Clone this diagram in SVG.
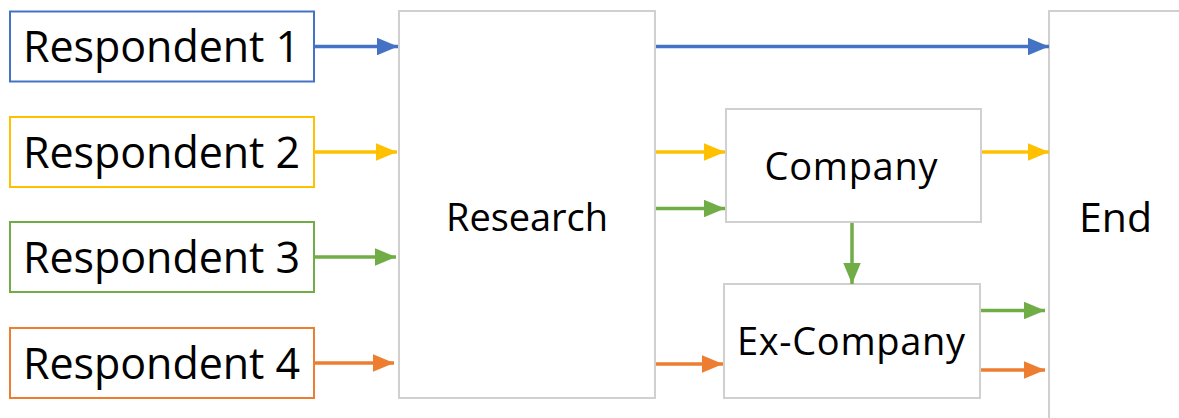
<svg xmlns="http://www.w3.org/2000/svg" width="1179" height="418" viewBox="0 0 1179 418">
<style>
text{font-family:"Open Sans","Liberation Sans",sans-serif;fill:#000;text-anchor:middle}
.resp{font-size:43px}
.mid{font-size:38px}
.gray{fill:#fff;stroke:#d0d0d0;stroke-width:2}
.c{stroke-width:3.5;fill:none}
</style>
<defs>
<marker id="aB" markerWidth="6" markerHeight="5" refX="6" refY="2.5" orient="auto" markerUnits="strokeWidth"><path d="M0,0L6,2.5L0,5z" fill="#4472C4"/></marker>
<marker id="aY" markerWidth="6" markerHeight="5" refX="6" refY="2.5" orient="auto" markerUnits="strokeWidth"><path d="M0,0L6,2.5L0,5z" fill="#FFC000"/></marker>
<marker id="aG" markerWidth="6" markerHeight="5" refX="6" refY="2.5" orient="auto" markerUnits="strokeWidth"><path d="M0,0L6,2.5L0,5z" fill="#70AD47"/></marker>
<marker id="aO" markerWidth="6" markerHeight="5" refX="6" refY="2.5" orient="auto" markerUnits="strokeWidth"><path d="M0,0L6,2.5L0,5z" fill="#ED7D31"/></marker>
</defs>
<g id="research"><rect class="gray" x="399" y="11" width="256" height="387"/><text class="mid" x="527" y="231" textLength="162">Research</text></g>
<g id="end"><rect class="gray" x="1049" y="11" width="140" height="420"/><text x="1115.5" y="232" font-size="41">End</text></g>
<g id="company"><rect class="gray" x="726" y="109" width="255" height="113"/><text class="mid" x="851" y="180" textLength="173">Company</text></g>
<g id="excompany"><rect class="gray" x="724" y="284" width="256" height="114"/><text class="mid" x="851" y="355" textLength="228">Ex-Company</text></g>
<g id="r1"><rect x="10" y="11.5" width="304" height="70" fill="#fff" stroke="#4472C4" stroke-width="2"/><text class="resp" x="161.5" y="62" textLength="277">Respondent 1</text></g>
<g id="r2"><rect x="10" y="117" width="304" height="70" fill="#fff" stroke="#FFC000" stroke-width="2"/><text class="resp" x="161.5" y="168" textLength="277">Respondent 2</text></g>
<g id="r3"><rect x="10" y="222" width="304" height="70" fill="#fff" stroke="#70AD47" stroke-width="2"/><text class="resp" x="161.5" y="273" textLength="277">Respondent 3</text></g>
<g id="r4"><rect x="10" y="328" width="304" height="70" fill="#fff" stroke="#ED7D31" stroke-width="2"/><text class="resp" x="161.5" y="379" textLength="277">Respondent 4</text></g>
<g id="connectors">
<path class="c" stroke="#4472C4" marker-end="url(#aB)" d="M315,46.5H398"/>
<path class="c" stroke="#4472C4" marker-end="url(#aB)" d="M656,46.5H1049"/>
<path class="c" stroke="#FFC000" marker-end="url(#aY)" d="M315,152H397"/>
<path class="c" stroke="#FFC000" marker-end="url(#aY)" d="M656,152H725"/>
<path class="c" stroke="#FFC000" marker-end="url(#aY)" d="M982,152H1049"/>
<path class="c" stroke="#70AD47" marker-end="url(#aG)" d="M315,257H396"/>
<path class="c" stroke="#70AD47" marker-end="url(#aG)" d="M656,208.5H725"/>
<path class="c" stroke="#70AD47" marker-end="url(#aG)" d="M852,223V284"/>
<path class="c" stroke="#70AD47" marker-end="url(#aG)" d="M981,310.5H1045"/>
<path class="c" stroke="#ED7D31" marker-end="url(#aO)" d="M315,363H394"/>
<path class="c" stroke="#ED7D31" marker-end="url(#aO)" d="M656,364H723"/>
<path class="c" stroke="#ED7D31" marker-end="url(#aO)" d="M981,370H1045"/>
</g>
</svg>
